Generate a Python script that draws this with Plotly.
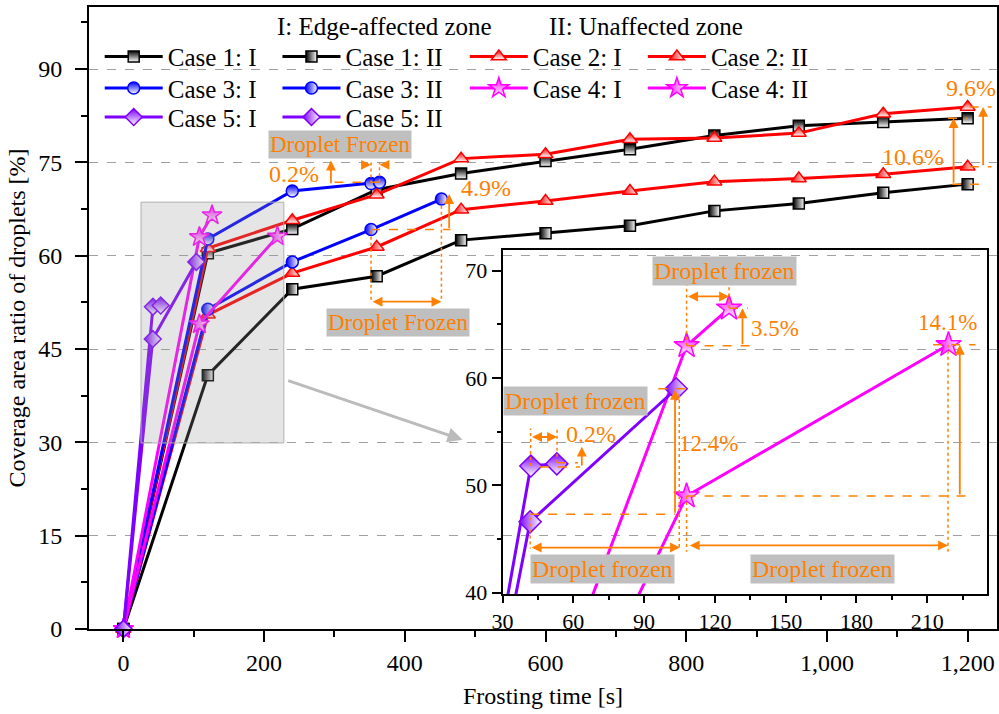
import plotly.graph_objects as go

# ---------------- data ----------------
t_full = [0, 120, 240, 360, 480, 600, 720, 840, 960, 1080, 1200]
case1_I = [0, 60.4, 64.3, 70.6, 73.2, 75.2, 77.1, 79.3, 80.9, 81.5, 82.1]
case1_II = [0, 40.8, 54.6, 56.7, 62.5, 63.6, 64.8, 67.2, 68.4, 70.1, 71.5]
case2_I = [0, 61.2, 65.7, 69.8, 75.6, 76.3, 78.7, 78.9, 79.7, 82.8, 83.9]
case2_II = [0, 50.5, 57.2, 61.4, 67.4, 68.8, 70.4, 71.9, 72.4, 73.1, 74.3]
t_case3_I = [0, 120, 240, 352, 364]
case3_I = [0, 62.7, 70.4, 71.6, 71.8]
t_case3_II = [0, 120, 240, 352, 452]
case3_II = [0, 51.4, 59.0, 64.2, 69.1]
t_case4_I = [0, 108, 126]
case4_I = [0, 63.0, 66.5]
t_case4_II = [0, 108, 219]
case4_II = [0, 49.0, 63.1]
t_case5_I = [0, 42, 53]
case5_I = [0, 51.8, 52.0]
t_case5_II = [0, 41.7, 103.6]
case5_II = [0, 46.6, 59.0]

main_xticks = [0, 200, 400, 600, 800, 1000, 1200]
main_yticks = [0, 15, 30, 45, 60, 75, 90]
inset_xticks = [30, 60, 90, 120, 150, 180, 210]
inset_yticks = [40, 50, 60, 70]

FONT = "Liberation Serif, Times New Roman, serif"
ORANGE = "#FF8000"
BOXBG = "#BFBFBF"

# plot-area geometry (pixels)
L, R, T, B = 89.3, 2, 7, 85
W, H = 999 - L - R, 714 - T - B

def px2paper_x(px):
    return (px - L) / W

def px2paper_y(py):
    return (714 - B - py) / H

series = [
    ("Case 1: I", t_full, case1_I, "#000000", "square", "vertical", 11),
    ("Case 1: II", t_full, case1_II, "#000000", "square", "horizontal", 11),
    ("Case 2: I", t_full, case2_I, "#FF0000", "triangle-up", "vertical", 13),
    ("Case 2: II", t_full, case2_II, "#FF0000", "triangle-up", "horizontal", 13),
    ("Case 3: I", t_case3_I, case3_I, "#0000FF", "circle", "vertical", 12),
    ("Case 3: II", t_case3_II, case3_II, "#0000FF", "circle", "horizontal", 12),
    ("Case 4: I", t_case4_I, case4_I, "#FF00FF", "star", "vertical", 15),
    ("Case 4: II", t_case4_II, case4_II, "#FF00FF", "star", "horizontal", 15),
    ("Case 5: I", t_case5_I, case5_I, "#7F00FF", "diamond", "vertical", 13),
    ("Case 5: II", t_case5_II, case5_II, "#7F00FF", "diamond", "horizontal", 13),
]

# legend grid positions (pixels of line-sample start / row centre)
leg_cols = [105, 282.7, 470, 648]
leg_rows = [56.7, 88.3, 117.3]
leg_slots = [(0, 0), (0, 1), (0, 2), (0, 3), (1, 0), (1, 1), (1, 2), (1, 3), (2, 0), (2, 1)]

fig = go.Figure()

for k, (name, xs, ys, col, sym, grad, size) in enumerate(series):
    legname = "legend" if k == 0 else f"legend{k+1}"
    fig.add_trace(go.Scatter(
        x=xs, y=ys, name=name, mode="lines+markers",
        line=dict(color=col, width=3),
        marker=dict(symbol=sym, size=size, color=col,
                    gradient=dict(type=grad, color="white"),
                    line=dict(color=col, width=1.5)),
        legend=legname, xaxis="x", yaxis="y", cliponaxis=False))

# inset traces (cases 4 and 5)
for k, (name, xs, ys, col, sym, grad, size) in enumerate(series):
    if not name.startswith(("Case 4", "Case 5")):
        continue
    fig.add_trace(go.Scatter(
        x=xs, y=ys, name=name, mode="lines+markers", showlegend=False,
        line=dict(color=col, width=3),
        marker=dict(symbol=sym, size=size + 4, color=col,
                    gradient=dict(type=grad, color="white"),
                    line=dict(color=col, width=1.5)),
        xaxis="x2", yaxis="y2"))

legends = {}
for k, (r, c) in enumerate(leg_slots):
    legname = "legend" if k == 0 else f"legend{k+1}"
    legends[legname] = dict(
        x=px2paper_x(leg_cols[c] - 5), y=px2paper_y(leg_rows[r]),
        xanchor="left", yanchor="middle", bgcolor="rgba(0,0,0,0)",
        borderwidth=0, itemwidth=58,
        font=dict(family=FONT, size=25, color="black"))

shapes = []
annotations = []

def seg(x0, y0, x1, y1, dash, xr="x", yr="y", color=ORANGE, width=1.5):
    shapes.append(dict(type="line", x0=x0, y0=y0, x1=x1, y1=y1, xref=xr, yref=yr,
                       line=dict(color=color, width=width, dash=dash), layer="above"))

def arrow(x0, y0, x1, y1, xr="x", yr="y", both=False):
    annotations.append(dict(x=x1, y=y1, ax=x0, ay=y0, xref=xr, yref=yr,
                            axref=xr, ayref=yr, text="", showarrow=True,
                            arrowhead=2, arrowsize=1.1, arrowwidth=1.8,
                            arrowcolor=ORANGE,
                            arrowside="end+start" if both else "end"))

def label(x, y, text, size, xr="x", yr="y", box=False):
    d = dict(x=x, y=y, xref=xr, yref=yr, text=text, showarrow=False,
             xanchor="center", yanchor="middle",
             font=dict(family=FONT, size=size, color=ORANGE))
    if box:
        d.update(bgcolor=BOXBG, borderpad=1)
    annotations.append(d)

# grey highlighted region + pointer arrow
shapes.append(dict(type="rect", xref="x", yref="y", x0=25, x1=228, y0=29.9, y1=68.6,
                   fillcolor="rgba(150,150,150,0.25)",
                   line=dict(color="#B0B0B0", width=1), layer="above"))
annotations.append(dict(x=482, y=30.4, ax=232, ay=40, xref="x", yref="y", axref="x",
                        ayref="y", text="", showarrow=True, arrowhead=2, arrowsize=1,
                        arrowwidth=3, arrowcolor="#BBBBBB"))

# ---- main plot annotations ----
label(308, 77.9, "Droplet Frozen", 23, box=True)
label(242, 73.2, "0.2%", 24)
arrow(295, 71.4, 295, 75.3)
seg(300, 71.8, 364, 71.8, "dash")
seg(352, 71.6, 352, 75.0, "dot")
seg(364, 71.8, 364, 75.0, "dot")
arrow(336, 74.6, 352, 74.6)
arrow(380, 74.6, 364, 74.6)

label(515, 70.8, "4.9%", 24)
seg(352, 64.2, 465, 64.2, "dash")
arrow(463, 64.2, 463, 69.9)
seg(352, 64.0, 352, 52.6, "dot")
seg(452, 69.0, 452, 52.6, "dot")
arrow(352, 52.6, 452, 52.6, both=True)
label(390, 49.2, "Droplet Frozen", 23, box=True)

label(1205, 87.0, "9.6%", 24)
arrow(1222, 74.3, 1222, 83.9)
seg(1203, 83.9, 1234, 83.9, "dash")
seg(1203, 74.3, 1234, 74.3, "dash")
label(1123, 75.9, "10.6%", 24)
arrow(1180, 71.5, 1180, 82.1)
seg(1178, 71.5, 1216, 71.5, "dash")
seg(1172, 82.1, 1200, 82.1, "dash")

# ---- inset annotations ----
X2, Y2 = "x2", "y2"
label(124.2, 70.0, "Droplet frozen", 24, X2, Y2, box=True)
seg(108, 63.0, 108, 68.8, "dot", X2, Y2)
seg(126, 66.5, 126, 68.8, "dot", X2, Y2)
arrow(108, 67.6, 126, 67.6, X2, Y2, both=True)
seg(108, 63.0, 136, 63.0, "dash", X2, Y2)
seg(126, 66.5, 134, 66.5, "dash", X2, Y2)
arrow(131.7, 63.0, 131.7, 66.5, X2, Y2)
label(145.3, 64.6, "3.5%", 23, X2, Y2)

label(218.6, 65.2, "14.1%", 23, X2, Y2)
seg(212.5, 63.1, 230.5, 63.1, "dash", X2, Y2)
arrow(223.8, 49.0, 223.8, 63.1, X2, Y2)
seg(108, 49.0, 227.3, 49.0, "dash", X2, Y2)
seg(218.8, 63.1, 218.8, 43.8, "dot", X2, Y2)
seg(108, 49.0, 108, 43.8, "dot", X2, Y2)
arrow(108.7, 44.4, 218.8, 44.4, X2, Y2, both=True)
label(165.6, 42.2, "Droplet frozen", 24, X2, Y2, box=True)

arrow(41.7, 44.2, 105.2, 44.2, X2, Y2, both=True)
label(72.3, 42.2, "Droplet frozen", 24, X2, Y2, box=True)
seg(41.7, 47.3, 103.2, 47.3, "dash", X2, Y2)
arrow(103.1, 47.3, 103.1, 58.9, X2, Y2)
seg(96, 59.0, 108.5, 59.0, "dash", X2, Y2)
label(117.5, 53.9, "12.4%", 23, X2, Y2)
seg(104.9, 58.5, 104.9, 44.1, "dot", X2, Y2)
seg(41.7, 47.0, 41.7, 44.1, "dot", X2, Y2)

seg(41.9, 51.8, 41.9, 55.3, "dot", X2, Y2)
seg(53.1, 52.1, 53.1, 55.3, "dot", X2, Y2)
arrow(41.9, 54.5, 53.1, 54.5, X2, Y2, both=True)
label(67.6, 54.8, "0.2%", 24, X2, Y2)
seg(45.8, 51.7, 62.8, 51.7, "dash", X2, Y2)
seg(53.1, 52.1, 62.0, 52.1, "dash", X2, Y2)
arrow(63.6, 51.7, 63.6, 53.6, X2, Y2)
label(61.1, 57.9, "Droplet frozen", 24, X2, Y2, box=True)

# legend headers
for txt, pxc in [("I: Edge-affected zone", 385), ("II: Unaffected zone", 646)]:
    annotations.append(dict(x=px2paper_x(pxc), y=px2paper_y(26), xref="paper",
                            yref="paper", text=txt, showarrow=False,
                            xanchor="center", yanchor="middle",
                            font=dict(family=FONT, size=25, color="black")))

# axis ranges matched to the pixel geometry
x_per_px = 1 / 0.7033
x0 = -(123.7 - L) * x_per_px
x1 = x0 + W * x_per_px
y1 = H / 6.222

axis_common = dict(showline=True, linecolor="black", linewidth=2, mirror=True,
                   ticks="outside", tickcolor="black", tickwidth=2, zeroline=False)

fig.update_layout(
    width=999, height=714,
    margin=dict(l=L, r=R, t=T, b=B, autoexpand=False),
    paper_bgcolor="white", plot_bgcolor="rgba(0,0,0,0)",
    font=dict(family=FONT, color="black"),
    xaxis=dict(range=[x0, x1], tickvals=main_xticks, tickformat=",", ticklen=11,
               tickfont=dict(family=FONT, size=24, color="black"),
               minor=dict(dtick=100, ticklen=6, tickwidth=2, ticks="outside", tickcolor="black"),
               showgrid=False,
               title=dict(text="Frosting time [s]", font=dict(family=FONT, size=24), standoff=12),
               **axis_common),
    yaxis=dict(range=[0, y1], tickvals=main_yticks, ticklen=12,
               tickfont=dict(family=FONT, size=24, color="black"), ticklabelstandoff=8,
               minor=dict(dtick=7.5, ticklen=6, tickwidth=2, ticks="outside", tickcolor="black"),
               showgrid=True, gridcolor="#A0A0A0", gridwidth=1, griddash="dash",
               title=dict(text="Coverage area ratio of droplets [%]", font=dict(family=FONT, size=24), standoff=6),
               **axis_common),
    xaxis2=dict(domain=[px2paper_x(502.7), px2paper_x(986.7)], anchor="y2",
                range=[30, 235.2], tickvals=inset_xticks, ticklen=7,
                tickfont=dict(family=FONT, size=22, color="black"),
                minor=dict(dtick=15, ticklen=4, tickwidth=1.5, ticks="outside", tickcolor="black"),
                showgrid=False, **axis_common),
    yaxis2=dict(domain=[px2paper_y(594), px2paper_y(250)], anchor="x2",
                range=[39.87, 71.93], tickvals=inset_yticks, ticklen=9,
                tickfont=dict(family=FONT, size=22, color="black"),
                minor=dict(dtick=5, ticklen=4, tickwidth=1.5, ticks="outside", tickcolor="black"),
                showgrid=False, **axis_common),
    shapes=shapes, annotations=annotations,
    **legends,
)

fig.write_html("out.html")
